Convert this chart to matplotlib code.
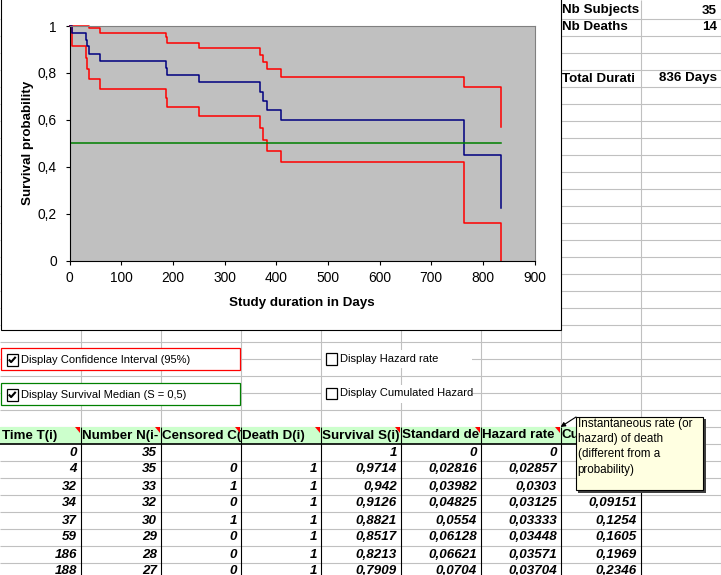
import matplotlib.pyplot as plt
from matplotlib.patches import Rectangle, Polygon
from matplotlib.transforms import Bbox, TransformedBbox
from matplotlib.ticker import FuncFormatter, MultipleLocator

days = [0, 4, 32, 34, 37, 59, 186, 188, 250, 368, 375, 383, 409, 763, 836]
surv = [1, 0.9714, 0.942, 0.9126, 0.8821, 0.8517, 0.8213, 0.7909, 0.7605,
        0.7204, 0.6804, 0.6404, 0.6004, 0.4503, 0.2251]
ci_upper = [1, 1, 1, 1, 0.9907, 0.9718, 0.9511, 0.9289, 0.9055, 0.8776,
            0.8473, 0.8149, 0.7807, 0.7387, 0.5689]
ci_lower = [1, 0.9162, 0.8639, 0.8180, 0.7736, 0.7316, 0.6915, 0.6529, 0.6155,
            0.5633, 0.5136, 0.4659, 0.4200, 0.1618, 0]
median_level = 0.5

# summary cells
summary_labels = ['Nb Subjects', 'Nb Deaths', 'Total Durati']
summary_values = ['35', '14', '836 Days']
summary_rows = [0, 1, 4]

# table below the chart
headers = ['Time T(i)', 'Number N(i-', 'Censored C(', 'Death D(i)', 'Survival S(i)',
           'Standard de', 'Hazard rate', 'Cu']
col_time = ['0', '4', '32', '34', '37', '59', '186', '188']
col_n = ['35', '35', '33', '32', '30', '29', '28', '27']
col_cens = ['', '0', '1', '0', '1', '0', '0', '0']
col_death = ['', '1', '1', '1', '1', '1', '1', '1']
col_surv = ['1', '0,9714', '0,942', '0,9126', '0,8821', '0,8517', '0,8213', '0,7909']
col_sd = ['0', '0,02816', '0,03982', '0,04825', '0,0554', '0,06128', '0,06621', '0,0704']
col_haz = ['0', '0,02857', '0,0303', '0,03125', '0,03333', '0,03448', '0,03571', '0,03704']
col_cumhaz = ['0', '0,02857', '0,05887', '0,09151', '0,1254', '0,1605', '0,1969', '0,2346']
table_cols = [col_time, col_n, col_cens, col_death, col_surv, col_sd, col_haz, col_cumhaz]

checkboxes = ['Display Confidence Interval (95%)', 'Display Survival Median (S = 0,5)',
              'Display Hazard rate', 'Display Cumulated Hazard']
comment = 'Instantaneous rate (or\nhazard) of death\n(different from a\nprobability)'

plt.rcParams['font.family'] = ['Liberation Sans', 'DejaVu Sans']

W, H = 721, 575
ROW, COLW = 17, 80
FS = 9.6
grid = '#C0C0C0'

fig = plt.figure(figsize=(W / 100, H / 100), dpi=100)
bg = fig.add_axes([0, 0, 1, 1])
bg.set_xlim(0, W)
bg.set_ylim(H, 0)
bg.axis('off')


def row_y(k):
    return ROW * k + 1.5


def cell_text(x0, x1, k, s, ha='right', **kw):
    # text clipped to its cell like excel does
    y = row_y(k) + ROW / 2 + 0.5
    x = x1 - 3 if ha == 'right' else x0 + 2
    t = bg.text(x, y, s, ha=ha, va='center', fontsize=FS, zorder=4, **kw)
    t.set_clip_box(TransformedBbox(Bbox([[x0, row_y(k + 1)], [x1, row_y(k)]]), bg.transData))
    return t


# worksheet grid
bg.hlines([row_y(k) for k in range(1, 34)], 0, W, color=grid, lw=0.8, zorder=0)
bg.vlines([COLW * k + 0.5 for k in range(1, 10)], 0, H, color=grid, lw=0.8, zorder=0)

# chart frame
bg.add_patch(Rectangle((0.5, -2), 560, 331.5, fc='white', ec='black', lw=0.8, zorder=2))

# summary block top right
for lab, val, k in zip(summary_labels, summary_values, summary_rows):
    cell_text(560, 640, k, lab, ha='left', fontweight='bold')
    cell_text(640, 720, k, val, fontweight='bold')

# check boxes
boxes = [(0.5, 347.5, '#FF0000', True), (0.5, 382.5, '#008000', True),
         (322, 350, None, False), (322, 384.5, None, False)]
for (bx, by, ec, checked), label in zip(boxes, checkboxes):
    if ec is not None:
        bg.add_patch(Rectangle((bx, by), 239.5, 22, fc='white', ec=ec, lw=0.9, zorder=2))
        sx, cy = 6.5, by + 12
    else:
        bg.add_patch(Rectangle((bx, by), 150, 18, fc='white', ec='none', zorder=2))
        sx, cy = 325.5, by + 8.5
    bg.add_patch(Rectangle((sx, cy - 5.5), 11.5, 11.5, fc='white', ec='black', lw=0.9, zorder=3))
    if checked:
        bg.plot([sx + 2.3, sx + 4.6, sx + 9.2], [cy, cy + 2.6, cy - 2.6], color='black',
                lw=1.5, zorder=4, solid_capstyle='butt')
    bg.text(sx + 14.5, cy + 0.5, label, va='center', fontsize=8, zorder=4)

# table header
hk = 25
bg.add_patch(Rectangle((0, row_y(hk)), 640.5, ROW, fc='#CCFFCC', ec='none', zorder=2))
bg.add_patch(Rectangle((0, row_y(hk + 1)), 640.5, H - row_y(hk + 1), fc='white', ec='none', zorder=1))
bg.hlines([row_y(k) for k in range(hk + 2, 34)], 0, 640.5, color=grid, lw=0.8, zorder=2)
for j, h in enumerate(headers):
    x0, x1 = COLW * j, COLW * (j + 1)
    cell_text(x0, x1, hk, h, ha='left', fontweight='bold')
    bg.add_patch(Polygon([(x1 - 5.5, row_y(hk) + 0.5), (x1, row_y(hk) + 0.5), (x1, row_y(hk) + 6)],
                         closed=True, fc='#FF0000', ec='none', zorder=5))
    for i, v in enumerate(table_cols[j]):
        cell_text(x0, x1, hk + 1 + i, v, fontweight='bold', fontstyle='italic')
bg.vlines([COLW * k + 0.5 for k in range(1, 9)], row_y(hk), H, color='black', lw=0.8, zorder=3)
bg.hlines(row_y(hk + 1), 0, 640.5, color='black', lw=1.2, zorder=3)

# comment box with arrow
bg.add_patch(Rectangle((578, 419), 128, 74, fc='#404040', ec='none', zorder=6))
bg.add_patch(Rectangle((575.5, 416.5), 127.5, 73.5, fc='#FFFFE1', ec='black', lw=0.8, zorder=7))
bg.text(577.5, 418, comment, va='top', ha='left', fontsize=8.4, linespacing=1.36, zorder=8)
bg.annotate('', xy=(560.5, 427), xytext=(576, 417),
            arrowprops=dict(arrowstyle='-|>', color='black', lw=0.8, mutation_scale=7,
                            shrinkA=0, shrinkB=0), zorder=8)

# the survival chart itself
ax = fig.add_axes([69.5 / W, 1 - 260.5 / H, (534.5 - 69.5) / W, (260.5 - 26) / H], zorder=3)
ax.set_facecolor('#C0C0C0')
ax.step(days, ci_upper, where='post', color='#FF0000', lw=1.1, clip_on=False)
ax.step(days, ci_lower, where='post', color='#FF0000', lw=1.1, clip_on=False)
ax.step(days, surv, where='post', color='#000080', lw=1.1, clip_on=False)
ax.plot([days[0], days[-1]], [median_level, median_level], color='#008000', lw=1.1)
ax.set_xlim(0, 900)
ax.set_ylim(0, 1)
ax.xaxis.set_major_locator(MultipleLocator(100))
ax.yaxis.set_major_locator(MultipleLocator(0.2))
ax.yaxis.set_major_formatter(FuncFormatter(lambda v, p: ('%g' % round(v, 1)).replace('.', ',')))
for s in ['left', 'bottom']:
    ax.spines[s].set_color('black')
    ax.spines[s].set_linewidth(0.8)
for s in ['top', 'right']:
    ax.spines[s].set_color('#808080')
    ax.spines[s].set_linewidth(0.8)
ax.tick_params(direction='out', length=3, width=0.8, labelsize=FS + 0.3, colors='black')
ax.tick_params(axis='y', pad=6)
ax.tick_params(axis='x', pad=4.5)
ax.set_xlabel('Study duration in Days', fontsize=FS, fontweight='bold', va='center')
ax.set_ylabel('Survival probability', fontsize=FS, fontweight='bold', va='center')
ax.xaxis.set_label_coords(0.5, (260 - 302.5) / 234)
ax.yaxis.set_label_coords((28.5 - 69.5) / 465, 0.5)

fig.savefig('out.png', dpi=100)
